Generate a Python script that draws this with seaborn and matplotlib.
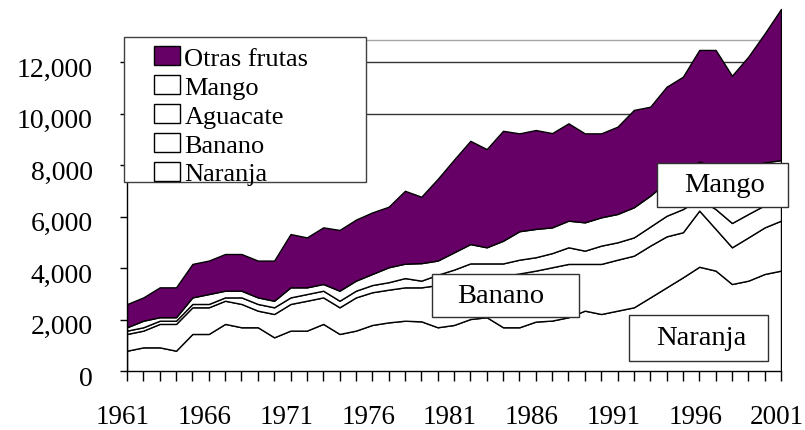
import matplotlib
matplotlib.use("Agg")
import matplotlib.pyplot as plt
import matplotlib.patches as mpatches
import matplotlib.ticker as mticker
import matplotlib.transforms as mtransforms
import seaborn as sns

# ---------------- data (thousand tonnes) ----------------
years = list(range(1961, 2002))
naranja = [800, 930, 930, 800, 1450, 1450, 1840, 1710, 1710, 1320,
           1580, 1580, 1840, 1450, 1580, 1800, 1900, 1965, 1940, 1710,
           1800, 2030, 2100, 1710, 1710, 1930, 1970, 2100, 2355, 2225,
           2355, 2485, 2870, 3260, 3650, 4060, 3910, 3390, 3520, 3780, 3910]
banano = [650, 650, 910, 1040, 1035, 1035, 900, 905, 645, 905,
          1035, 1160, 1030, 1035, 1290, 1270, 1270, 1295, 1320, 1640,
          1700, 1620, 1550, 1990, 2090, 1980, 2070, 2070, 1815, 1945,
          1980, 2005, 2010, 1980, 1750, 2180, 1620, 1425, 1680, 1810, 1940]
aguacate = [130, 130, 125, 125, 130, 130, 130, 255, 260, 260,
            255, 260, 260, 255, 260, 280, 290, 360, 260, 400,
            450, 540, 540, 490, 535, 520, 550, 645, 515, 710,
            675, 710, 740, 800, 900, 460, 770, 945, 910, 860, 750]
mango = [130, 255, 135, 135, 255, 385, 260, 260, 255, 255,
         390, 260, 260, 390, 390, 430, 580, 560, 680, 550,
         670, 750, 625, 880, 1105, 1100, 1000, 1035, 1100, 1100,
         1100, 1170, 1200, 1310, 1450, 1440, 1650, 2040, 1840, 1665, 1600]
otras = [900, 905, 1160, 1160, 1300, 1300, 1425, 1425, 1430, 1560,
         2070, 1940, 2200, 2360, 2370, 2390, 2350, 2830, 2580, 3170,
         3600, 4010, 3815, 4270, 3800, 3840, 3660, 3780, 3455, 3260,
         3390, 3780, 3455, 3700, 3690, 4340, 4530, 3680, 4270, 5005, 5870]

series_names = ["Naranja", "Banano", "Aguacate", "Mango", "Otras frutas"]
series_colors = ["white", "white", "white", "white", "#660066"]
xtick_years = [1961, 1966, 1971, 1976, 1981, 1986, 1991, 1996, 2001]
ytick_values = [0, 2000, 4000, 6000, 8000, 10000, 12000]
grid_values = [10000, 12000]
box_labels = ["Mango", "Banano", "Naranja"]

# ---------------- style ----------------
sns.set_theme(style="white")
plt.rcParams["font.family"] = ["Liberation Serif", "DejaVu Serif"]

W, H = 805, 431
fig = plt.figure(figsize=(W / 100, H / 100), dpi=100)
fig.patch.set_facecolor("white")

y0_px = 372.3          # pixel row of value 0
px_per_unit = 25.75 / 1000.0
ax = fig.add_axes([127 / W, (H - y0_px) / H, 654 / W, y0_px / H])
ax.set_facecolor("white")

for g in grid_values:
    ax.axhline(g, color="#333333", lw=1.0, zorder=0)
ax.axhline(12880, color="#a6a6a6", lw=1.0, zorder=0)

ax.stackplot(years, naranja, banano, aguacate, mango, otras,
             colors=series_colors, edgecolor="black", linewidth=1.0,
             zorder=2, labels=series_names)

ax.set_xlim(1961, 2001)
ax.set_ylim(0, y0_px / px_per_unit)

for s in ["top", "right"]:
    ax.spines[s].set_visible(False)
for s in ["left", "bottom"]:
    ax.spines[s].set_color("black")
    ax.spines[s].set_linewidth(1.0)
ax.spines["left"].set_bounds(0, 12880)

ax.set_xticks(xtick_years)
ax.set_xticklabels([str(y) for y in xtick_years])
ax.set_xticks(years, minor=True)
ax.set_yticks(ytick_values)
ax.yaxis.set_major_formatter(mticker.FuncFormatter(lambda v, p: f"{int(v):,}"))

ax.tick_params(axis="x", which="both", direction="out", length=7.5, width=1,
               color="black", bottom=True)
ax.tick_params(axis="x", which="major", pad=16, labelsize=19.5, labelcolor="black")
ax.tick_params(axis="y", which="major", direction="out", length=5, width=1,
               color="black", left=True, pad=19.5, labelsize=20, labelcolor="black")

# small offsets of tick labels as in the reference
xoff = mtransforms.ScaledTranslation(-4 / 100, 0, fig.dpi_scale_trans)
for lbl in ax.get_xticklabels():
    lbl.set_transform(lbl.get_transform() + xoff)
yoff = mtransforms.ScaledTranslation(0, -4 / 100, fig.dpi_scale_trans)
for lbl in ax.get_yticklabels():
    lbl.set_transform(lbl.get_transform() + yoff)

# ---------------- legend ----------------
frame = mpatches.Rectangle((124 / W, 1 - 183 / H), (366 - 124) / W, (183 - 37.7) / H,
                           transform=fig.transFigure, facecolor="white",
                           edgecolor="#404040", lw=1.0, zorder=4)
fig.add_artist(frame)

handles = [mpatches.Patch(facecolor=c, edgecolor="black", lw=1.0, label=n)
           for n, c in zip(series_names[::-1], series_colors[::-1])]
leg = fig.legend(handles=handles, loc="upper left",
                 bbox_to_anchor=(154 / W, 1 - 47 / H), bbox_transform=fig.transFigure,
                 frameon=False, fontsize=19, handlelength=1.0, handleheight=0.75,
                 handletextpad=0.15, labelspacing=0.19, borderpad=0, borderaxespad=0)
leg.set_zorder(5)
for t in leg.get_texts():
    t.set_color("black")

# ---------------- label boxes ----------------
boxes = {
    "Mango": (657, 164, 788, 208, 724.5),
    "Banano": (432, 275, 579, 318, 500.5),
    "Naranja": (629, 316, 768, 362, 701.5),
}
for name in box_labels:
    x1, y1, x2, y2, xc = boxes[name]
    r = mpatches.Rectangle((x1 / W, 1 - y2 / H), (x2 - x1) / W, (y2 - y1) / H,
                           transform=fig.transFigure, facecolor="white",
                           edgecolor="#303030", lw=1.0, zorder=4)
    fig.add_artist(r)
    fig.text(xc / W, 1 - (y1 + y2) / 2 / H, name,
             ha="center", va="center", fontsize=20.5, color="black", zorder=6)

fig.savefig("out.png", dpi=100)
